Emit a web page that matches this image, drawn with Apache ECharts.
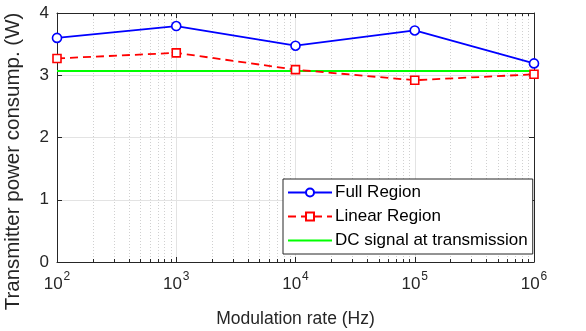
<!DOCTYPE html>
<html>
<head>
<meta charset="utf-8">
<script src="https://cdn.jsdelivr.net/npm/echarts@6/dist/echarts.min.js"></script>
<style>html,body{margin:0;padding:0;background:#fff}#c{width:586px;height:331px}</style>
</head>
<body>
<div id="c"></div>
<script>
var rates = [100, 1000, 10000, 100000, 1000000];
var fullRegion = [3.60, 3.79, 3.475, 3.72, 3.19];
var linearRegion = [3.27, 3.36, 3.09, 2.92, 3.015];
var dcLevel = 3.07;
var yTicks = [0, 1, 2, 3, 4];

var chart = echarts.init(document.getElementById('c'));
var font = 'Liberation Sans, Arial, sans-serif';
var txt = '#262626';
function pairs(v) { return rates.map(function (r, i) { return [r, v[i]]; }); }

var xBase = {
  type: 'log', logBase: 10, min: 100, max: 1000000,
  axisLine: { show: true, onZero: false, lineStyle: { color: txt, width: 1 } },
  axisTick: { show: true, inside: true, length: 5, lineStyle: { color: txt } },
  minorTick: { show: true, splitNumber: 9, length: 3, lineStyle: { color: txt } }
};
var yBase = {
  type: 'value', min: 0, max: 4, interval: 1,
  axisLine: { show: true, onZero: false, lineStyle: { color: txt, width: 1 } },
  axisTick: { show: true, inside: true, length: 5, lineStyle: { color: txt } }
};

chart.setOption({
  animation: false,
  backgroundColor: '#fff',
  grid: { left: 57, right: 52, top: 13, bottom: 69, containLabel: false, outerBoundsMode: 'none' },
  xAxis: [
    Object.assign({}, xBase, {
      position: 'bottom',
      name: 'Modulation rate (Hz)', nameLocation: 'middle', nameGap: 48,
      nameTextStyle: { fontFamily: font, fontSize: 17.5, color: txt },
      axisLabel: {
        margin: 9,
        formatter: function (v) {
          var e = Math.round(Math.log10(v));
          return '{b|10}{s|' + e + '}';
        },
        rich: {
          b: { fontFamily: font, fontSize: 17, color: txt, lineHeight: 22, verticalAlign: 'bottom' },
          s: { fontFamily: font, fontSize: 12, color: txt, lineHeight: 22, verticalAlign: 'top', padding: [0, 0, 8, 1] }
        }
      },
      splitLine: { show: true, lineStyle: { color: '#e3e3e3', width: 1 } },
      minorSplitLine: { show: true, lineStyle: { color: '#d0d0d0', width: 1, type: [1, 2] } }
    }),
    Object.assign({}, xBase, {
      position: 'top', axisLabel: { show: false }, splitLine: { show: false }, minorSplitLine: { show: false }
    })
  ],
  yAxis: [
    Object.assign({}, yBase, {
      position: 'left',
      name: 'Transmitter power consump. (W)', nameLocation: 'middle', nameGap: 33,
      nameTextStyle: { fontFamily: font, fontSize: 20.5, color: txt, padding: [0, 48, 0, 0] },
      axisLabel: { fontFamily: font, fontSize: 17, color: txt, margin: 8,
        formatter: function (v) { return yTicks.indexOf(v) >= 0 ? String(v) : ''; } },
      splitLine: { show: true, lineStyle: { color: '#e3e3e3', width: 1 } }
    }),
    Object.assign({}, yBase, {
      position: 'right', axisLabel: { show: false }, splitLine: { show: false }
    })
  ],
  legend: {
    orient: 'vertical', left: 283, top: 179,
    padding: [5, 5, 5, 4], itemGap: 7, itemWidth: 44, itemHeight: 10,
    backgroundColor: '#fff', borderColor: txt, borderWidth: 1, borderRadius: 0,
    textStyle: { fontFamily: font, fontSize: 17, color: '#000', padding: [0, 0, 0, -2] },
    data: [
      { name: 'Full Region' },
      { name: 'Linear Region' },
      { name: 'DC signal at transmission', itemStyle: { opacity: 0 } }
    ]
  },
  series: [
    {
      name: 'DC signal at transmission', type: 'line', xAxisIndex: 0, yAxisIndex: 0,
      data: [[rates[0], dcLevel], [rates[rates.length - 1], dcLevel]],
      symbol: 'none', lineStyle: { color: '#00ff00', width: 2 }, itemStyle: { color: '#00ff00' }, z: 3
    },
    {
      name: 'Full Region', type: 'line', xAxisIndex: 0, yAxisIndex: 0, data: pairs(fullRegion),
      symbol: 'circle', symbolSize: 9, showSymbol: true,
      lineStyle: { color: '#0000ff', width: 1.8 },
      itemStyle: { color: '#fff', borderColor: '#0000ff', borderWidth: 1.6 }, z: 4
    },
    {
      name: 'Linear Region', type: 'line', xAxisIndex: 0, yAxisIndex: 0, data: pairs(linearRegion),
      symbol: 'rect', symbolSize: 8,
      lineStyle: { color: '#ff0000', width: 1.8, type: [8, 5] },
      itemStyle: { color: '#fff', borderColor: '#ff0000', borderWidth: 1.6 }, z: 4
    }
  ]
});
</script>
</body>
</html>
